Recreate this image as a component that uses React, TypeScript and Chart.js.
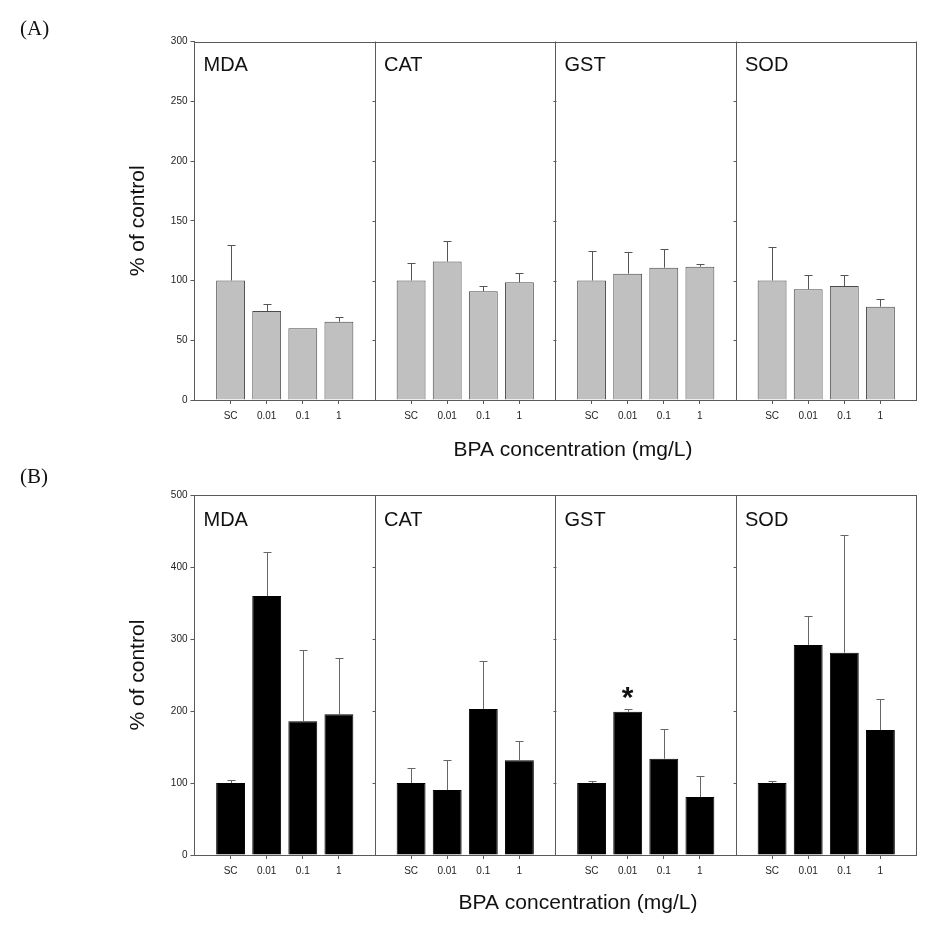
import React, { useEffect, useRef } from 'react';
import { Chart, registerables } from 'chart.js';

Chart.register(...registerables);

// ---------- data ----------
const groups = ['MDA', 'CAT', 'GST', 'SOD'];
const doses = ['SC', '0.01', '0.1', '1'];

// Panel (A)
const mdaA = [100, 74.5, 60, 65.5];
const mdaAErr = [30, 5.5, 0, 4];
const catA = [100, 115.8, 91, 98.5];
const catAErr = [15, 17, 4.7, 7.5];
const gstA = [100, 105.7, 110.7, 111.6];
const gstAErr = [25, 18, 15.7, 2.2];
const sodA = [100, 92.6, 95.4, 78.1];
const sodAErr = [28, 11.7, 9.5, 6.7];

// Panel (B)
const mdaB = [100, 360, 185.8, 195.6];
const mdaBErr = [4.5, 61, 98.7, 78.7];
const catB = [100, 90.4, 203, 131.6];
const catBErr = [20.5, 41, 66, 27];
const gstB = [100, 199.2, 133.9, 80.6];
const gstBErr = [3.3, 3.3, 41, 29];
const sodB = [100, 292, 281.2, 173.8];
const sodBErr = [3, 40, 164, 43];

// significance marks: [group index, dose index]
const starsB: [number, number][] = [[2, 1]];

// y axis ranges
const yMaxA = 300;
const yStepA = 50;
const yMaxB = 500;
const yStepB = 100;

const yTitle = '% of control';
const xTitle = 'BPA concentration (mg/L)';

// ---------- helpers ----------
const SANS = 'Arial, "Liberation Sans", sans-serif';
const SERIF = '"Times New Roman", "Liberation Serif", serif';
const AXIS = '#5a5a5a';
const TEXT = '#222';

function buildLabels() {
  const out: string[] = [];
  groups.forEach(() => {
    out.push('');
    doses.forEach((d) => out.push(d));
  });
  out.push('');
  return out;
}

function buildSeries(parts: number[][]) {
  const out: (number | null)[] = [];
  parts.forEach((p) => {
    out.push(null);
    p.forEach((v) => out.push(v));
  });
  out.push(null);
  return out;
}

interface PanelSpec {
  letter: string;
  values: (number | null)[];
  errors: (number | null)[];
  stars: [number, number][];
  yMax: number;
  yStep: number;
  fill: string;
  border: string;
  errColor: string;
  padTop: number;
  xAxisHeight: number;
  labelY: number;
  groupTitleOffset: number;
  xTitleX: number;
  xTitleY: number;
}

function makePlugin(p: PanelSpec) {
  return {
    id: 'panelDecor' + p.letter,
    afterDatasetsDraw(chart: any) {
      const { ctx, chartArea: ca } = chart;
      const x = chart.scales.x;
      const y = chart.scales.y;
      ctx.save();
      ctx.lineWidth = 1;
      ctx.strokeStyle = AXIS;
      // top frame line
      const ty0 = Math.round(ca.top) + 0.5;
      ctx.beginPath();
      ctx.moveTo(ca.left, ty0);
      ctx.lineTo(ca.right + 0.5, ty0);
      ctx.stroke();
      // small tick marks on separators
      for (let i = 5; i < 20; i += 5) {
        const sx = Math.round(x.getPixelForValue(i)) + 0.5;
        y.ticks.forEach((t: any) => {
          const yy = Math.round(y.getPixelForValue(t.value)) + 0.5;
          ctx.beginPath();
          ctx.moveTo(sx - 3, yy);
          ctx.lineTo(sx, yy);
          ctx.stroke();
        });
      }
      // error bars (upper only)
      ctx.strokeStyle = p.errColor;
      p.values.forEach((v, i) => {
        const e = p.errors[i];
        if (v == null || e == null || e <= 0) return;
        const cx = Math.round(x.getPixelForValue(i)) + 0.5;
        const yb = y.getPixelForValue(v);
        const yt = Math.round(y.getPixelForValue(v + e)) + 0.5;
        ctx.beginPath();
        ctx.moveTo(cx, yb);
        ctx.lineTo(cx, yt);
        ctx.moveTo(cx - 4, yt);
        ctx.lineTo(cx + 4, yt);
        ctx.stroke();
      });
      // stars
      ctx.fillStyle = '#111';
      ctx.font = `bold 30px ${SANS}`;
      ctx.textAlign = 'center';
      ctx.textBaseline = 'middle';
      p.stars.forEach(([g, d]) => {
        const idx = g * 5 + 1 + d;
        const v = p.values[idx] as number;
        const e = (p.errors[idx] as number) || 0;
        const cx = x.getPixelForValue(idx);
        const yt = y.getPixelForValue(v + e);
        ctx.fillText('*', cx, yt - 11);
      });
      // group titles
      ctx.font = `20px ${SANS}`;
      ctx.textAlign = 'left';
      ctx.fillStyle = '#111';
      groups.forEach((g, gi) => {
        const gx = x.getPixelForValue(gi * 5);
        ctx.fillText(g, gx + 9, ca.top + p.groupTitleOffset);
      });
      // x axis title
      ctx.font = `21px ${SANS}`;
      ctx.textAlign = 'center';
      ctx.fillText(xTitle, p.xTitleX, p.xTitleY);
      // panel letter
      ctx.font = `21px ${SERIF}`;
      ctx.textAlign = 'left';
      ctx.fillText(`(${p.letter})`, 20, p.labelY);
      ctx.restore();
    },
  };
}

function makeConfig(p: PanelSpec): any {
  const labels = buildLabels();
  return {
    type: 'bar',
    data: {
      labels,
      datasets: [
        {
          data: p.values,
          backgroundColor: p.fill,
          borderColor: p.border,
          borderWidth: 1,
          barPercentage: 0.8,
          categoryPercentage: 1,
        },
      ],
    },
    options: {
      responsive: false,
      animation: false,
      layout: { padding: { top: p.padTop, right: 943 - 916.5, bottom: 0, left: 0 } },
      plugins: {
        legend: { display: false },
        tooltip: { enabled: false },
      },
      scales: {
        x: {
          type: 'category',
          offset: false,
          grid: {
            display: true,
            offset: false,
            drawOnChartArea: true,
            drawTicks: true,
            tickLength: 4,
            lineWidth: 1,
            color: (c: any) => (c.index % 5 === 0 ? AXIS : 'rgba(0,0,0,0)'),
            tickColor: (c: any) => (c.index % 5 === 0 ? 'rgba(0,0,0,0)' : AXIS),
          },
          border: { display: true, color: AXIS, width: 1 },
          ticks: {
            autoSkip: false,
            maxRotation: 0,
            minRotation: 0,
            padding: 6,
            color: TEXT,
            font: { family: SANS, size: 10 },
          },
          afterFit: (s: any) => {
            s.height = p.xAxisHeight;
          },
        },
        y: {
          min: 0,
          max: p.yMax,
          ticks: {
            stepSize: p.yStep,
            padding: 3,
            color: TEXT,
            font: { family: SANS, size: 10 },
          },
          grid: {
            drawOnChartArea: false,
            drawTicks: true,
            tickLength: 4,
            tickColor: AXIS,
          },
          border: { display: true, color: AXIS, width: 1 },
          title: {
            display: true,
            text: yTitle,
            color: '#111',
            font: { family: SANS, size: 21 },
            padding: { top: 125.4, bottom: 0 },
          },
          afterFit: (s: any) => {
            s.width = 194.5;
          },
        },
      },
    },
    plugins: [makePlugin(p)],
  };
}

const panelA: PanelSpec = {
  letter: 'A',
  values: buildSeries([mdaA, catA, gstA, sodA]),
  errors: buildSeries([mdaAErr, catAErr, gstAErr, sodAErr]),
  stars: [],
  yMax: yMaxA,
  yStep: yStepA,
  fill: '#c0c0c0',
  border: '#4a4a4a',
  errColor: '#555',
  padTop: 41.5,
  xAxisHeight: 64,
  labelY: 29,
  groupTitleOffset: 23.5,
  xTitleX: 573,
  xTitleY: 450,
};

const panelB: PanelSpec = {
  letter: 'B',
  values: buildSeries([mdaB, catB, gstB, sodB]),
  errors: buildSeries([mdaBErr, catBErr, gstBErr, sodBErr]),
  stars: starsB,
  yMax: yMaxB,
  yStep: yStepB,
  fill: '#000000',
  border: '#000000',
  errColor: '#666',
  padTop: 31.3,
  xAxisHeight: 73,
  labelY: 13,
  groupTitleOffset: 24.7,
  xTitleX: 578,
  xTitleY: 439.3,
};

function Panel({ spec, top }: { spec: PanelSpec; top: number }) {
  const ref = useRef<HTMLCanvasElement | null>(null);
  useEffect(() => {
    if (!ref.current) return;
    const chart = new Chart(ref.current, makeConfig(spec));
    return () => chart.destroy();
  }, [spec]);
  return (
    <canvas
      ref={ref}
      width={943}
      height={464}
      style={{ position: 'absolute', left: 0, top, width: 943, height: 464 }}
    />
  );
}

export default function App() {
  return (
    <div style={{ position: 'absolute', left: 0, top: 0, width: 943, height: 928, background: '#fff' }}>
      <Panel spec={panelA} top={0} />
      <Panel spec={panelB} top={464} />
    </div>
  );
}
